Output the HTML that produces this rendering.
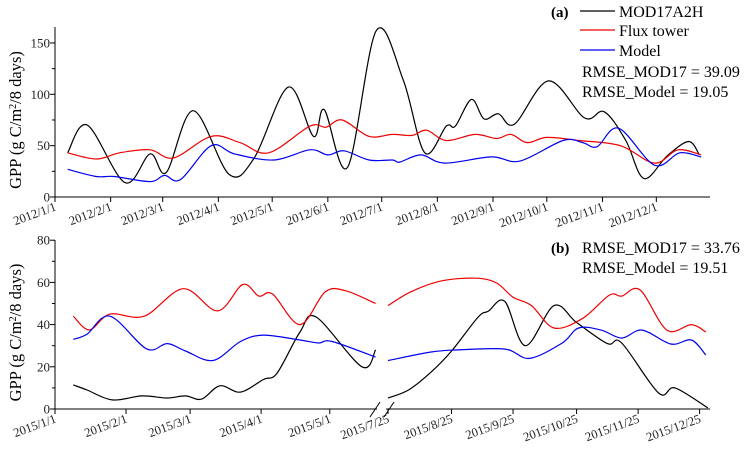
<!DOCTYPE html>
<html><head><meta charset="utf-8"><style>
body{margin:0;background:#fff;}
svg{display:block;font-family:"Liberation Serif",serif;}
</style></head><body>
<svg id="chart" width="749" height="453"></svg>
<script>
// ---- Panel (a) data: day offset from 2012/1/1, GPP values ----
const aTickDays=[0,31,60,91,121,152,182,213,244,274,305,335];
const aTickLabels=["2012/1/1","2012/2/1","2012/3/1","2012/4/1","2012/5/1","2012/6/1","2012/7/1","2012/8/1","2012/9/1","2012/10/1","2012/11/1","2012/12/1"];
const aYTicks=[0,50,100,150];
const aModDays=[7,18,39,53,62,77,97,111,130,144,150,163,179,194,206,218,223,232,239,247,256,275,295,306,318,328,341,353,359];
const aModVals=[43,70,14,42,24,84,22,38,107,59,85,29,162,114,43,69,69,95,76,81,71,113,77,83,55,18,40,54,41];
const aFluxDays=[7,23,36,53,66,87,103,119,142,151,160,175,188,199,207,218,234,246,254,263,274,292,315,334,347,360];
const aFluxVals=[43,37,43,46,38,59,53,43,69,68,75,59,61,60,65,55,61,57,61,53,58,55,50,33,46,41];
const aModelDays=[7,23,33,53,61,70,87,100,122,142,152,161,175,188,192,204,217,243,259,283,294,302,314,334,348,360];
const aModelVals=[27,20,20,15,21,17,50,42,36,46,41,45,36,36,34,41,33,39,35,55,53,49,67,31,43,39];
// ---- Panel (b) data: day offset from 2015/1/1 ----
const bTickDays=[0,31,59,90,120,206,237,267,298,328,358];
const bTickLabels=["2015/1/1","2015/2/1","2015/3/1","2015/4/1","2015/5/1","2015/7/25","2015/8/25","2015/9/25","2015/10/25","2015/11/25","2015/12/25"];
const bYTicks=[0,20,40,60,80];
const bModDaysL=[8,14,25,38,49,57,64,72,81,91,97,107,114,134,140];
const bModValsL=[11.4,9,4.3,6.2,5.2,6.2,4.7,11,8,14,17,36.5,43.6,20,28];
const bFluxDaysL=[8,15,24,39,56,71,82,89,95,107,118,127,140];
const bFluxValsL=[44,37.5,45,44,57,46.5,59,53.5,54.5,40,55.5,56,50];
const bModelDaysL=[8,14,24,40,49,57,69,81,91,107,115,121,140];
const bModelValsL=[33,35.5,44,28.5,31,27.5,23,32,35,32.7,31.3,32,24.6];
const bModDaysR=[206,216,227,237,250,255,263,273,287,298,313,320,338,346,362];
const bModValsR=[5.2,9,17.5,27.5,43.6,46.4,51,30,49,41,31,31.3,7.6,10,0.5];
const bFluxDaysR=[206,217,232,249,259,267,276,287,301,314,320,329,342,354,361];
const bFluxValsR=[49,55.5,60.7,62,59.7,53,49,38.4,43,54,53.5,56.4,37.4,40,36.5];
const bModelDaysR=[206,227,240,263,275,291,299,310,320,330,344,354,361];
const bModelValsR=[23,27,28,28.4,24,31.3,38.4,37.4,33.6,37.4,30.8,32.7,25.6];

const NS="http://www.w3.org/2000/svg";
const svg=document.getElementById('chart');
function mk(tag,attrs,parent){const e=document.createElementNS(NS,tag);for(const k in attrs)e.setAttribute(k,attrs[k]);(parent||svg).appendChild(e);return e;}

const ax=d=>55+d*1.795;
const ay=v=>197-v*1.027;
const bx=d=>d<=150?55+d*2.29:388+(d-206)*2.05;
const by=v=>409-v*2.11;

function spline(days,vals,xf,yf){
  const p=days.map((d,i)=>[xf(d),yf(vals[i])]);
  let s="M"+p[0][0].toFixed(1)+","+p[0][1].toFixed(1);
  for(let i=0;i<p.length-1;i++){
    const p0=p[Math.max(0,i-1)],p1=p[i],p2=p[i+1],p3=p[Math.min(p.length-1,i+2)];
    const c1=[p1[0]+(p2[0]-p0[0])/6,p1[1]+(p2[1]-p0[1])/6];
    const c2=[p2[0]-(p3[0]-p1[0])/6,p2[1]-(p3[1]-p1[1])/6];
    s+=" C"+c1[0].toFixed(1)+","+c1[1].toFixed(1)+" "+c2[0].toFixed(1)+","+c2[1].toFixed(1)+" "+p2[0].toFixed(1)+","+p2[1].toFixed(1);
  }
  return s;
}
function series(days,vals,xf,yf,color,name){
  const e=mk('path',{d:spline(days,vals,xf,yf),fill:'none',stroke:color,'stroke-width':1.2});
  
  
}
function axes(yTop,yBase,yTicks,yf,minorStep,maxV,tickDays,labels,xf,prefix){
  const g=mk('g',{});
  
  
  mk('line',{x1:55,y1:yTop,x2:55,y2:yBase,stroke:'#000','stroke-width':1},g);
  mk('line',{x1:55,y1:yBase,x2:710,y2:yBase,stroke:'#000','stroke-width':1},g);
  for(let v=0;v<=maxV+0.01;v+=minorStep){
    const major=yTicks.indexOf(v)>=0;
    mk('line',{x1:55-(major?5:3),y1:yf(v),x2:55,y2:yf(v),stroke:'#000'},g);
  }
  yTicks.forEach(v=>{
    const t=mk('text',{x:50,y:yf(v)+4.5,'text-anchor':'end','font-size':13,fill:'#222'},g);
    t.textContent=v;
    
    
  });
  tickDays.forEach((d,i)=>{
    const x=xf(d);
    mk('line',{x1:x,y1:yBase,x2:x,y2:yBase+5,stroke:'#000'},g);
    const t=mk('text',{x:x+2,y:yBase+13,'text-anchor':'end','font-size':12.5,fill:'#222',transform:'rotate(-20 '+(x+2)+' '+(yBase+13)+')'},g);
    t.textContent=labels[i];
    
    
  });
  const cy=(yTop+yBase)/2+8;
  const yt=mk('text',{x:21,y:cy,'text-anchor':'middle','font-size':16.5,transform:'rotate(-90 21 '+cy+')'},g);
  yt.innerHTML='GPP (g C/m<tspan baseline-shift="super" font-size="10">2</tspan>/8 days)';
  
  
}
axes(27,197,aYTicks,ay,25,150,aTickDays,aTickLabels,ax,'panel-a');
axes(240,409,bYTicks,by,10,80,bTickDays,bTickLabels,bx,'panel-b');
const br=mk('g',{stroke:'#000','stroke-width':1});


mk('rect',{x:377,y:405,width:9,height:8,fill:'#fff',stroke:'none'},br);
mk('line',{x1:370,y1:417,x2:380,y2:402},br);
mk('line',{x1:384,y1:417,x2:394,y2:402},br);

series(aModDays,aModVals,ax,ay,'#000','panel-a-mod17-line');
series(aFluxDays,aFluxVals,ax,ay,'#e00','panel-a-flux-line');
series(aModelDays,aModelVals,ax,ay,'#00e','panel-a-model-line');
series(bModDaysL,bModValsL,bx,by,'#000','panel-b-mod17-line-left');
series(bFluxDaysL,bFluxValsL,bx,by,'#e00','panel-b-flux-line-left');
series(bModelDaysL,bModelValsL,bx,by,'#00e','panel-b-model-line-left');
series(bModDaysR,bModValsR,bx,by,'#000','panel-b-mod17-line-right');
series(bFluxDaysR,bFluxValsR,bx,by,'#e00','panel-b-flux-line-right');
series(bModelDaysR,bModelValsR,bx,by,'#00e','panel-b-model-line-right');
</script>
<script>
(function(){
const NS="http://www.w3.org/2000/svg";
const svg=document.getElementById('chart');
function t(x,y,s,txt,bold,name){const e=document.createElementNS(NS,'text');e.setAttribute('x',x);e.setAttribute('y',y);e.setAttribute('font-size',s);if(bold)e.setAttribute('font-weight','bold');e.textContent=txt;


svg.appendChild(e);}
function l(y,c,name){const e=document.createElementNS(NS,'line');e.setAttribute('x1',580);e.setAttribute('x2',615);e.setAttribute('y1',y);e.setAttribute('y2',y);e.setAttribute('stroke',c);e.setAttribute('stroke-width',1.3);


svg.appendChild(e);}
t(551,17,15,'(a)',true,'panel-a-label');
l(11,'#000','legend-mod17-swatch');t(619,17,16,'MOD17A2H',false,'legend-mod17');
l(30,'#e00','legend-flux-swatch');t(619,36,16,'Flux tower',false,'legend-flux');
l(50,'#00e','legend-model-swatch');t(619,56,16,'Model',false,'legend-model');
t(582,77,16,'RMSE_MOD17 = 39.09',false,'panel-a-rmse-mod17');
t(582,97,16,'RMSE_Model = 19.05',false,'panel-a-rmse-model');
t(551,253,15,'(b)',true,'panel-b-label');
t(582,253,16,'RMSE_MOD17 = 33.76',false,'panel-b-rmse-mod17');
t(582,273,16,'RMSE_Model = 19.51',false,'panel-b-rmse-model');
})();
</script>
</body></html>
